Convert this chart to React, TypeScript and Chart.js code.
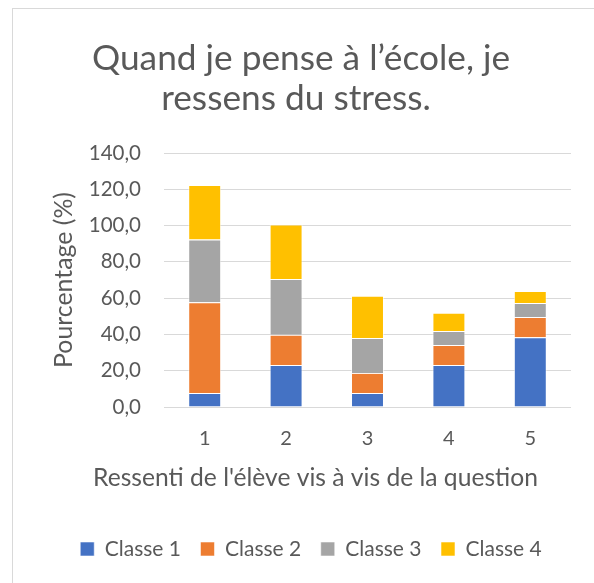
import React, { useEffect, useRef } from 'react';
import { Chart, registerables } from 'chart.js';

Chart.register(...registerables);

const categories = ['1', '2', '3', '4', '5'];
const classe1 = [7.7, 23.1, 7.7, 23.1, 38.5];
const classe2 = [50.0, 16.7, 11.1, 11.1, 11.1];
const classe3 = [34.6, 30.8, 19.2, 7.7, 7.7];
const classe4 = [30.0, 30.0, 23.3, 10.0, 6.7];
const seriesNames = ['Classe 1', 'Classe 2', 'Classe 3', 'Classe 4'];
const seriesColors = ['#4472C4', '#ED7D31', '#A5A5A5', '#FFC000'];
const yMin = 0;
const yMax = 140;
const yStep = 20;
const titleLines = ['Quand je pense à l’école, je', 'ressens du stress.'];
const xTitle = "Ressenti de l'élève vis à vis de la question";
const yTitle = 'Pourcentage (%)';

const FONT = 'Lato, "Open Sans", sans-serif';
const TEXT = '#595959';

function fitSize(ctx: CanvasRenderingContext2D, text: string, width: number) {
  ctx.font = `100px ${FONT}`;
  const w = ctx.measureText(text).width;
  return (100 * width) / w;
}

const textPlugin = {
  id: 'customTexts',
  afterDraw(chart: any) {
    const ctx: CanvasRenderingContext2D = chart.ctx;
    ctx.save();
    ctx.fillStyle = TEXT;
    ctx.textAlign = 'center';
    ctx.textBaseline = 'alphabetic';
    let s = fitSize(ctx, titleLines[0], 418);
    ctx.font = `${s}px ${FONT}`;
    ctx.fillText(titleLines[0], 301, 70);
    ctx.fillText(titleLines[1], 296, 110);
    s = fitSize(ctx, xTitle, 445);
    ctx.font = `${s}px ${FONT}`;
    ctx.fillText(xTitle, 315.5, 486);
    s = fitSize(ctx, yTitle, 176);
    ctx.font = `${s}px ${FONT}`;
    ctx.translate(72, 280);
    ctx.rotate(-Math.PI / 2);
    ctx.fillText(yTitle, 0, 0);
    ctx.restore();
  },
};

export default function App() {
  const ref = useRef<HTMLCanvasElement>(null);
  useEffect(() => {
    document.body.style.overflow = 'hidden';
    const data = [classe1, classe2, classe3, classe4];
    const chart = new Chart(ref.current!, {
      type: 'bar',
      data: {
        labels: categories,
        datasets: seriesNames.map((name, i) => ({
          label: name,
          data: data[i],
          backgroundColor: seriesColors[i],
          borderColor: 'rgba(255,255,255,0.55)',
          borderWidth: 1,
          categoryPercentage: 1,
          barPercentage: 0.405,
        })),
      },
      options: {
        animation: false,
        responsive: false,
        layout: { padding: { left: 28, right: 0, top: 153, bottom: 13.5 } },
        plugins: {
          title: { display: false },
          tooltip: { enabled: false },
          legend: {
            position: 'bottom',
            labels: {
              boxWidth: 14,
              boxHeight: 14,
              padding: 19.5,
              color: TEXT,
              font: { family: FONT, size: 21 },
            },
          },
        },
        scales: {
          x: {
            stacked: true,
            grid: { display: false, drawTicks: false },
            border: { display: false },
            ticks: { color: TEXT, font: { family: FONT, size: 20 }, padding: 20 },
            afterFit: (scale: any) => {
              scale.height = 112;
            },
          },
          y: {
            stacked: true,
            min: yMin,
            max: yMax,
            grid: { color: '#D9D9D9', lineWidth: 1, drawTicks: false },
            border: { display: false },
            ticks: {
              stepSize: yStep,
              color: TEXT,
              font: { family: FONT, size: 20.5 },
              padding: 23,
              callback: (v: any) => Number(v).toFixed(1).replace('.', ','),
            },
            afterFit: (scale: any) => {
              scale.width = 136;
            },
          },
          yRight: {
            type: 'linear',
            position: 'right',
            display: true,
            min: yMin,
            max: yMax,
            grid: { display: false, drawTicks: false },
            border: { display: false },
            ticks: { display: false },
            afterFit: (scale: any) => {
              scale.width = 23;
            },
          },
        },
      },
      plugins: [textPlugin],
    });
    return () => chart.destroy();
  }, []);

  return (
    <div style={{ position: 'absolute', left: 0, top: 0, width: 594, height: 583, overflow: 'hidden', background: '#fff' }}>
      <div
        style={{
          position: 'absolute',
          left: 12,
          top: 8,
          width: 700,
          height: 700,
          borderLeft: '1px solid #D9D9D9',
          borderTop: '1px solid #D9D9D9',
        }}
      />
      <canvas ref={ref} width={594} height={583} style={{ position: 'absolute', left: 0, top: 0, display: 'block' }} />
    </div>
  );
}
